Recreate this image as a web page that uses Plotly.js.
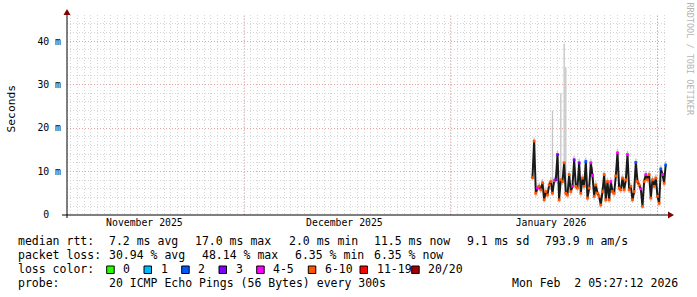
<!DOCTYPE html>
<html>
<head>
<meta charset="utf-8">
<script src="https://cdn.plot.ly/plotly-3.0.1.min.js"></script>
<style>html,body{margin:0;padding:0;background:#fff;}#chart{width:697px;height:297px;}</style>
</head>
<body>
<div id="chart"></div>
<script>
// ---- data ----
const times = [
 '2026-01-13 06:00','2026-01-13 12:00','2026-01-13 18:00','2026-01-14 00:00','2026-01-14 06:00','2026-01-14 12:00','2026-01-14 18:00',
 '2026-01-15 00:00','2026-01-15 06:00','2026-01-15 12:00','2026-01-15 18:00','2026-01-16 00:00','2026-01-16 06:00','2026-01-16 12:00','2026-01-16 18:00',
 '2026-01-17 00:00','2026-01-17 06:00','2026-01-17 12:00','2026-01-17 18:00','2026-01-18 00:00','2026-01-18 06:00','2026-01-18 12:00','2026-01-18 18:00',
 '2026-01-19 00:00','2026-01-19 06:00','2026-01-19 12:00','2026-01-19 18:00','2026-01-20 00:00','2026-01-20 06:00','2026-01-20 12:00','2026-01-20 18:00',
 '2026-01-21 00:00','2026-01-21 06:00','2026-01-21 12:00','2026-01-21 18:00','2026-01-22 00:00','2026-01-22 06:00','2026-01-22 12:00','2026-01-22 18:00',
 '2026-01-23 00:00','2026-01-23 06:00','2026-01-23 12:00','2026-01-23 18:00','2026-01-24 00:00','2026-01-24 06:00','2026-01-24 12:00','2026-01-24 18:00',
 '2026-01-25 00:00','2026-01-25 06:00','2026-01-25 12:00','2026-01-25 18:00','2026-01-26 00:00','2026-01-26 06:00','2026-01-26 12:00','2026-01-26 18:00',
 '2026-01-27 00:00','2026-01-27 06:00','2026-01-27 12:00','2026-01-27 18:00','2026-01-28 00:00','2026-01-28 06:00','2026-01-28 12:00','2026-01-28 18:00',
 '2026-01-29 00:00','2026-01-29 06:00','2026-01-29 12:00','2026-01-29 18:00','2026-01-30 00:00','2026-01-30 06:00','2026-01-30 12:00','2026-01-30 18:00',
 '2026-01-31 00:00','2026-01-31 06:00','2026-01-31 12:00','2026-01-31 18:00','2026-02-01 00:00','2026-02-01 06:00','2026-02-01 12:00','2026-02-01 18:00',
 '2026-02-02 00:00','2026-02-02 05:25'
];
// median rtt in ms
const medianMs = [
 8.6,17.0,5.0,6.2,6.6,5.8,7.4,
 3.5,5.4,4.6,6.9,7.7,5.0,7.9,8.1,
 13.9,3.5,8.1,7.7,12.0,5.0,4.6,9.3,
 5.4,6.6,12.7,6.6,6.2,12.0,5.0,8.5,
 6.6,12.3,3.9,6.2,12.0,9.1,4.3,6.9,
 5.0,4.3,2.3,5.4,9.3,3.5,7.7,3.5,
 7.7,5.4,5.0,9.0,14.3,6.2,5.8,8.5,
 5.8,8.1,13.9,5.8,6.6,3.5,5.4,12.1,
 7.7,6.9,6.0,2.0,7.7,9.3,8.1,9.3,
 3.9,8.1,6.6,8.5,4.3,2.7,10.6,9.3,
 7.3,11.5
];
// lost pings out of 20
const lostPings = [
 8,7,7,5,7,7,7,
 7,6,7,7,7,7,7,3,
 3,7,7,7,7,7,7,7,
 7,5,3,7,7,3,7,7,
 7,2,7,7,5,5,7,7,
 7,7,7,7,7,7,7,7,
 5,7,7,7,5,7,7,7,
 7,7,5,7,7,7,7,2,
 7,7,5,7,7,5,7,7,
 7,7,7,7,7,7,2,5,
 7,2
];
// smoke (ping spread) in ms
const smokeMin = [
 7.8,16.0,4.2,5.4,5.8,5.0,6.6,
 2.8,4.6,3.8,6.1,6.9,4.3,7.1,7.3,
 12.9,2.8,7.3,6.9,11.1,4.2,3.8,8.4,
 4.6,5.8,11.8,5.8,5.4,11.1,4.2,7.7,
 5.8,11.4,3.1,5.4,11.1,8.2,3.5,6.1,
 4.2,3.5,1.6,4.6,8.4,2.8,6.9,2.8,
 6.9,4.6,4.2,8.2,13.3,5.4,5.0,7.7,
 5.0,7.3,12.9,5.0,5.8,2.8,4.6,11.2,
 6.9,6.1,5.2,1.4,6.9,8.4,7.3,8.4,
 3.1,7.3,5.8,7.7,3.5,2.0,9.8,8.4,
 6.5,10.7
];
const smokeMax = [
 9.5,17.8,6.2,7.0,7.5,6.8,8.3,
 4.5,6.4,5.6,7.8,8.6,24.0,8.8,9.2,
 14.8,4.8,28.0,8.8,39.4,34.0,5.6,10.2,
 6.4,7.5,13.6,7.5,7.2,13.0,6.0,9.4,
 7.5,13.2,5.0,7.2,13.0,11.0,5.3,7.8,
 6.0,5.2,3.4,6.3,10.2,4.6,8.6,4.5,
 8.6,6.3,6.0,10.0,15.2,7.2,6.8,9.4,
 6.8,9.0,14.8,6.8,7.5,4.5,6.3,13.0,
 8.6,7.8,7.0,3.0,8.6,10.2,9.0,10.2,
 4.9,9.0,7.5,9.4,5.3,3.7,11.5,10.2,
 8.2,12.4
];
const lossLabels = ['0','1','2','3','4-5','6-10','11-19','20/20'];
const lossUpper  = [0,1,2,3,5,10,19,20];
const lossColors = ['#26ff00','#00b8ff','#0059ff','#7e00ff','#ff00ff','#ff5500','#ff0000','#a10000'];
const monthLabelTicks = ['2025-11-16 01:00','2025-12-16 01:00','2026-01-16 01:00'];
const monthLabels = ['November 2025','December 2025','January 2026'];
const monthStarts = ['2025-12-01','2026-01-01','2026-02-01'];
const yTickVals = [0,10,20,30,40];
const yTickText = ['0\u00a0\u00a0','10 m','20 m','30 m','40 m'];
const legendRows = [
  {label:'median rtt:', items:[['7.2 ms avg',107.3],['17.0 ms max',193.3],['2.0 ms min',286.7],['11.5 ms now',372.3],['9.1 ms sd',465],['793.9 m am/s',542.7]]},
  {label:'packet loss:', items:[['30.94 % avg',107.3],['48.14 % max',200],['6.35 % min',293.3],['6.35 % now',372.3]]},
  {label:'loss color:', items:[]},
  {label:'probe:', items:[['20 ICMP Echo Pings (56 Bytes) every 300s',107.3]]}
];
const stamp = 'Mon Feb  2 05:27:12 2026';

// ---- layout helpers ----
const L = 67, W = 600, T = 15, H = 200, FW = 697, FH = 297;
const px = x => (x - L) / W;
const py = y => (T + H - y) / H;
const MONO = 'DejaVu Sans Mono';
const GRID = '#d6d6d6', MGRID = '#e2a4a4';

function colorFor(n){
  for (let i = 0; i < lossUpper.length; i++) if (n <= lossUpper[i]) return lossColors[i];
  return lossColors[lossColors.length-1];
}

const slotMs = 6*3600*1000;
const traces = [
  {type:'bar', x:times, base:smokeMin, y:smokeMax.map((v,i)=>v-smokeMin[i]),
   width:slotMs*0.8, marker:{color:'#c6c6c6', line:{width:0}}, hoverinfo:'skip'},
  {type:'scatter', mode:'lines', x:times, y:medianMs, line:{color:'#1a1a1a', width:2}, hoverinfo:'skip'},
  {type:'scatter', mode:'markers', x:times, y:medianMs,
   marker:{symbol:'square', size:2.8, color:lostPings.map(colorFor), line:{width:0}}, hoverinfo:'skip'}
];

const annotations = [];
const rowY = [240.7, 254.7, 268.7, 282.7];
function textAnn(text, xPix, yPix, extra){
  annotations.push(Object.assign({text:text, xref:'paper', yref:'paper', x:px(xPix), y:py(yPix),
    xanchor:'left', yanchor:'middle', showarrow:false,
    font:{family:MONO, size:11.5, color:'#000'}}, extra||{}));
}
legendRows.forEach((r,i)=>{
  textAnn(r.label, 16, rowY[i]);
  r.items.forEach(it=>textAnn(it[0], it[1], rowY[i]));
});
textAnn(stamp, 680, rowY[3], {xanchor:'right'});

const shapes = monthStarts.map(d=>({type:'line', xref:'x', yref:'paper', x0:d, x1:d, y0:0, y1:1,
  layer:'below', line:{color:MGRID, width:1, dash:'1px,2px'}}));
// loss color legend boxes
const boxX = [106.7,144,181.7,219,256.7,308.3,360,411.7];
lossLabels.forEach((lab,i)=>{
  shapes.push({type:'rect', xref:'paper', yref:'paper', xsizemode:'pixel', ysizemode:'pixel',
    xanchor:px(boxX[i]), yanchor:py(273.5), x0:0, x1:7.5, y0:0, y1:7.5,
    fillcolor:lossColors[i], line:{color:'#000', width:1}});
  textAnn(lab, boxX[i]+14.5, rowY[2]);
});
// axis title and watermark
annotations.push({text:'Seconds', xref:'paper', yref:'paper', x:px(10.5), y:py(109), textangle:-90,
  xanchor:'center', yanchor:'middle', showarrow:false, font:{family:MONO, size:11.3, color:'#000'}});
annotations.push({text:'RRDTOOL / TOBI OETIKER', xref:'paper', yref:'paper', x:px(689.5), y:py(59), textangle:90,
  xanchor:'center', yanchor:'middle', showarrow:false, font:{family:MONO, size:8.5, color:'#b4b4b4'}});

shapes.push({type:'line', xref:'paper', yref:'paper', xsizemode:'pixel', xanchor:0, x0:-5, x1:601, y0:0, y1:0,
  line:{color:'#000', width:1}});
shapes.push({type:'line', xref:'paper', yref:'paper', ysizemode:'pixel', yanchor:0, x0:0, x1:0, y0:-3, y1:203,
  line:{color:'#000', width:1}});
shapes.push({type:'path', xref:'paper', yref:'paper', xsizemode:'pixel', ysizemode:'pixel', xanchor:1, yanchor:0,
  path:'M 1,-3.5 L 7,0 L 1,3.5 Z', fillcolor:'#7f0000', line:{width:0}});
shapes.push({type:'path', xref:'paper', yref:'paper', xsizemode:'pixel', ysizemode:'pixel', xanchor:0, yanchor:0,
  path:'M -3.5,200 L 3.5,200 L 0,206 Z', fillcolor:'#7f0000', line:{width:0}});

const layout = {
  width:FW, height:FH, margin:{l:L, r:FW-L-W, t:T, b:FH-T-H, pad:0},
  paper_bgcolor:'#fff', plot_bgcolor:'#fff', showlegend:false, barmode:'overlay',
  font:{family:MONO, color:'#000'},
  xaxis:{type:'date', range:['2025-11-04 10:15','2026-02-02 10:15'],
    tickmode:'array', tickvals:monthLabelTicks, ticktext:monthLabels, ticks:'',
    tickfont:{family:MONO, size:9.8, color:'#000'}, showgrid:false, zeroline:false, showline:false,
    minor:{tickmode:'linear', tick0:'2025-11-01', dtick:86400000, showgrid:true, gridcolor:GRID, griddash:'1px,2px', gridwidth:1, ticks:''},
    fixedrange:true},
  yaxis:{range:[0,46], tickmode:'array', tickvals:yTickVals, ticktext:yTickText, ticks:'',
    tickfont:{family:MONO, size:9.8, color:'#000'}, showgrid:true, gridcolor:MGRID, griddash:'1px,2px', gridwidth:1,
    zeroline:false, showline:false, ticklabelstandoff:5,
    minor:{tickmode:'linear', tick0:0, dtick:2, showgrid:true, gridcolor:GRID, griddash:'1px,2px', gridwidth:1, ticks:''},
    fixedrange:true},
  annotations:annotations, shapes:shapes
};
Plotly.newPlot('chart', traces, layout, {staticPlot:true, displayModeBar:false});
</script>
</body>
</html>
